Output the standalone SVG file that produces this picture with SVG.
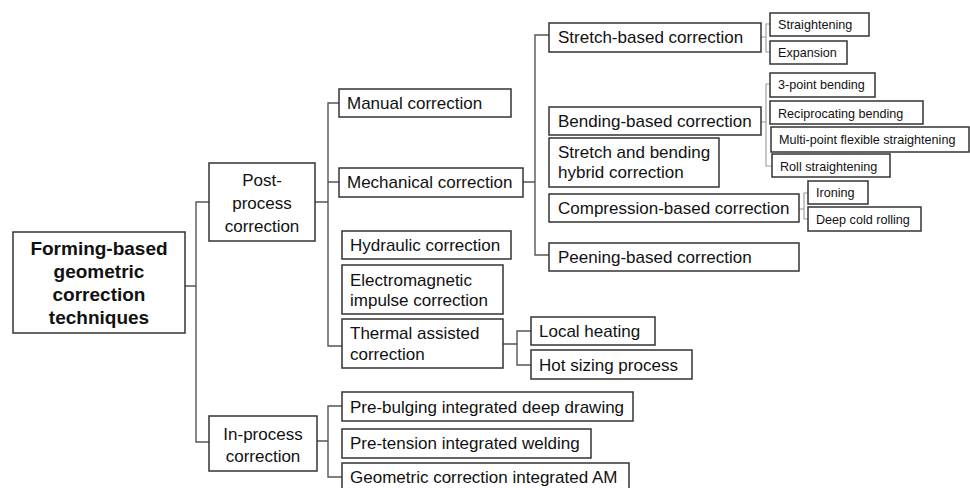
<svg xmlns="http://www.w3.org/2000/svg" width="970" height="488" viewBox="0 0 970 488">
<style>
.b{fill:#fff;stroke:#333;stroke-width:1.5}
.t{font-family:"Liberation Sans",Arial,sans-serif;font-size:17px;fill:#111}
.tb{font-family:"Liberation Sans",Arial,sans-serif;font-size:19px;font-weight:bold;fill:#111;text-anchor:middle}
.tc{text-anchor:middle}
.s{font-family:"Liberation Sans",Arial,sans-serif;font-size:12.6px;fill:#111}
.c{fill:none;stroke:#555;stroke-width:1.4}
.cs{fill:none;stroke:#999;stroke-width:1.1}
</style>
<rect width="970" height="488" fill="#fff"/>
<g id="connectors">
<path class="c" d="M185,286 H196 M209,202 H196 V442 H209"/>
<path class="c" d="M315,202 H328 M339,103 H328 V346 H342 M328,182 H339"/>
<path class="c" d="M523,182 H535 M549,35 H535 V255 H549"/>
<path class="c" d="M503,344 H517 M531,331 H517 V365 H531"/>
<path class="c" d="M317,441 H328 M342,406 H328 V477 H342"/>
<path class="cs" d="M761,37 H766 M770,24 H766 V52 H770"/>
<path class="cs" d="M761,122 H766 M770,84 H766 V166 H772"/>
<path class="cs" d="M799,209 H804 M808,193 H804 V219 H808"/>
</g>
<g id="root"><rect class="b" x="13" y="232" width="172" height="101"/>
<text class="tb" x="99" y="255">Forming-based</text><text class="tb" x="99" y="278">geometric</text><text class="tb" x="99" y="301">correction</text><text class="tb" x="99" y="324">techniques</text></g>
<g id="post"><rect class="b" x="209" y="163" width="106" height="78"/>
<text class="t tc" x="262" y="186">Post-</text><text class="t tc" x="262" y="209">process</text><text class="t tc" x="262" y="232">correction</text></g>
<g id="inproc"><rect class="b" x="209" y="416" width="108" height="55"/>
<text class="t tc" x="263" y="440">In-process</text><text class="t tc" x="263" y="462">correction</text></g>
<g id="manual"><rect class="b" x="339" y="89" width="172" height="28"/><text class="t" x="347" y="109">Manual correction</text></g>
<g id="mechanical"><rect class="b" x="339" y="168" width="184" height="29"/><text class="t" x="347" y="188">Mechanical correction</text></g>
<g id="hydraulic"><rect class="b" x="342" y="231" width="169" height="28"/><text class="t" x="350" y="251">Hydraulic correction</text></g>
<g id="electromagnetic"><rect class="b" x="342" y="265" width="161" height="49"/><text class="t" x="350" y="286">Electromagnetic</text><text class="t" x="350" y="306">impulse correction</text></g>
<g id="thermal"><rect class="b" x="342" y="319" width="161" height="49"/><text class="t" x="350" y="339">Thermal assisted</text><text class="t" x="350" y="360">correction</text></g>
<g id="localheating"><rect class="b" x="531" y="317" width="124" height="28"/><text class="t" x="539" y="337">Local heating</text></g>
<g id="hotsizing"><rect class="b" x="531" y="350" width="161" height="29"/><text class="t" x="539" y="371">Hot sizing process</text></g>
<g id="prebulging"><rect class="b" x="342" y="392" width="291" height="29"/><text class="t" x="350" y="413">Pre-bulging integrated deep drawing</text></g>
<g id="pretension"><rect class="b" x="342" y="429" width="249" height="29"/><text class="t" x="350" y="449">Pre-tension integrated welding</text></g>
<g id="geometricam"><rect class="b" x="342" y="463" width="287" height="26"/><text class="t" x="350" y="483">Geometric correction integrated AM</text></g>
<g id="stretch"><rect class="b" x="549" y="23" width="212" height="29"/><text class="t" x="558" y="43">Stretch-based correction</text></g>
<g id="bending"><rect class="b" x="549" y="107" width="212" height="28"/><text class="t" x="558" y="127">Bending-based correction</text></g>
<g id="hybrid"><rect class="b" x="549" y="138" width="170" height="49"/><text class="t" x="558" y="158">Stretch and bending</text><text class="t" x="558" y="178">hybrid correction</text></g>
<g id="compression"><rect class="b" x="549" y="194" width="250" height="28"/><text class="t" x="558" y="214">Compression-based correction</text></g>
<g id="peening"><rect class="b" x="549" y="243" width="250" height="28"/><text class="t" x="558" y="263">Peening-based correction</text></g>
<g id="straightening"><rect class="b" x="770" y="13" width="99" height="23"/><text class="s" x="778" y="28.5">Straightening</text></g>
<g id="expansion"><rect class="b" x="770" y="41" width="77" height="23"/><text class="s" x="778" y="57">Expansion</text></g>
<g id="threepoint"><rect class="b" x="770" y="73" width="105" height="24"/><text class="s" x="778" y="89">3-point bending</text></g>
<g id="reciprocating"><rect class="b" x="770" y="101" width="153" height="23"/><text class="s" x="778" y="117.5">Reciprocating bending</text></g>
<g id="multipoint"><rect class="b" x="771" y="127" width="198" height="25"/><text class="s" x="779" y="144">Multi-point flexible straightening</text></g>
<g id="roll"><rect class="b" x="772" y="154" width="118" height="23"/><text class="s" x="780" y="171">Roll straightening</text></g>
<g id="ironing"><rect class="b" x="808" y="181" width="60" height="23"/><text class="s" x="816" y="197">Ironing</text></g>
<g id="deepcold"><rect class="b" x="808" y="207" width="113" height="24"/><text class="s" x="816" y="223.5">Deep cold rolling</text></g>
</svg>
